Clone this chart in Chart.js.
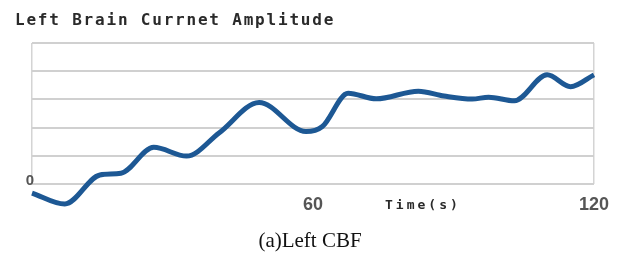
<!DOCTYPE html>
<html>
<head>
<meta charset="utf-8">
<script src="https://cdn.jsdelivr.net/npm/chart.js@4"></script>
<style>
  html, body { margin: 0; padding: 0; background: #fff; }
  #wrap { width: 619px; height: 253px; position: relative; }
</style>
</head>
<body>
<div id="wrap"><canvas id="chart"></canvas></div>
<script>
// values (time in s, amplitude in gridline units)
const times = [0, 7, 14.5, 19, 26, 33, 40, 48.5, 58.5, 62, 67.5, 73.5, 82.5, 88, 94, 97.5, 103, 110, 115, 120];
const amplitude = [-0.32, -0.71, 0.32, 0.38, 1.3, 0.99, 1.82, 2.89, 1.86, 2.04, 3.22, 3.02, 3.29, 3.12, 3.01, 3.08, 2.95, 3.87, 3.45, 3.87];
const xTicks = [0, 60, 120];
const titleText = 'Left Brain Currnet Amplitude';
const xTitle = 'Time(s)';
const caption = '(a)Left CBF';

// draws the free texts: title, axis name, y zero label, caption
const textPlugin = {
  id: 'texts',
  afterDraw(chart) {
    const ctx = chart.ctx;
    const x = chart.scales.x;
    const y = chart.scales.y;
    ctx.save();
    ctx.textBaseline = 'middle';

    ctx.fillStyle = '#2a2a2a';
    ctx.font = 'bold 16px "DejaVu Sans Mono"';
    ctx.letterSpacing = '1.8px';
    ctx.textAlign = 'left';
    ctx.fillText(titleText, 15, 21);

    ctx.font = 'bold 13px "DejaVu Sans Mono"';
    ctx.letterSpacing = '3px';
    ctx.fillText(xTitle, 385, 206);

    ctx.letterSpacing = '0px';
    ctx.fillStyle = '#555';
    ctx.font = 'bold 15px "Liberation Sans"';
    ctx.textAlign = 'center';
    ctx.fillText('0', x.getPixelForValue(0) - 2, y.getPixelForValue(0) - 3);

    ctx.fillStyle = '#111';
    ctx.font = '21px "Liberation Serif"';
    ctx.textBaseline = 'alphabetic';
    ctx.fillText(caption, 310, 247);
    ctx.restore();
  }
};

new Chart(document.getElementById('chart'), {
  type: 'line',
  data: {
    datasets: [{
      data: times.map((t, i) => ({ x: t, y: amplitude[i] })),
      borderColor: '#1d5894',
      borderWidth: 5,
      pointRadius: 0,
      cubicInterpolationMode: 'monotone',
      clip: false,
    }],
  },
  options: {
    responsive: true,
    maintainAspectRatio: false,
    animation: false,
    layout: { padding: { left: 32, right: 22, top: 43, bottom: 29 } },
    plugins: { legend: { display: false }, tooltip: { enabled: false } },
    scales: {
      x: {
        type: 'linear',
        min: 0,
        max: 120,
        afterBuildTicks: (scale) => { scale.ticks = xTicks.map((v) => ({ value: v })); },
        afterFit: (scale) => { scale.height = 40; },
        ticks: {
          padding: 10,
          color: '#555',
          font: { family: 'Liberation Sans', size: 18, weight: 'bold' },
          callback: (v) => (v === 0 ? '' : v),
          maxRotation: 0,
        },
        grid: {
          color: (c) => (c.tick && c.tick.value === 60 ? 'rgba(0,0,0,0)' : '#d4d4d4'),
          lineWidth: 1.5,
          drawTicks: false,
        },
        border: { display: false },
      },
      y: {
        min: 0,
        max: 5,
        afterFit: (scale) => { scale.width = 0; },
        ticks: { stepSize: 1, display: false },
        grid: { color: '#d0d0d0', lineWidth: 2, drawTicks: false },
        border: { display: false },
      },
    },
  },
  plugins: [textPlugin],
});
</script>
</body>
</html>
